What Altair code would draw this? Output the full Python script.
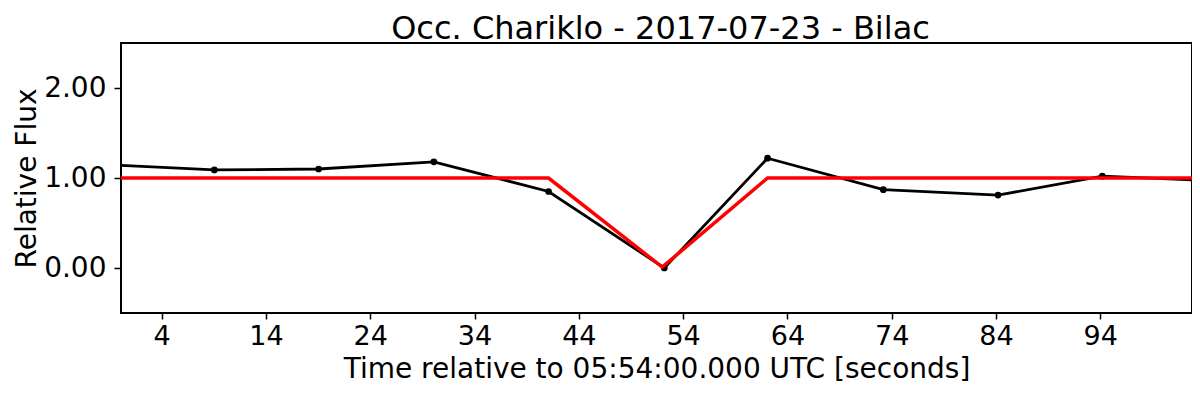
import altair as alt
import pandas as pd

# Observed light curve (black)
time = [-1.5, 9.05, 19.05, 30.1, 41.1, 52.2, 62.1, 73.2, 84.2, 94.2, 104.8]
flux = [1.15, 1.09, 1.10, 1.18, 0.85, 0.0, 1.22, 0.87, 0.81, 1.02, 0.97]

# Model (red)
model_time = [-1.5, 41.1, 52.0, 62.1, 104.8]
model_flux = [1.0, 1.0, 0.01, 1.0, 1.0]

x_ticks = [4, 14, 24, 34, 44, 54, 64, 74, 84, 94]
y_ticks = [0.0, 1.0, 2.0]

obs = pd.DataFrame({"t": time, "f": flux})
mod = pd.DataFrame({"t": model_time, "f": model_flux})

FONT = "DejaVu Sans"

x_enc = alt.X("t:Q",
              scale=alt.Scale(domain=[0.1, 102.8], nice=False, zero=False),
              axis=alt.Axis(values=x_ticks, title="Time relative to 05:54:00.000 UTC [seconds]",
                            grid=False, labelFontSize=27, titleFontSize=28,
                            tickSize=6, tickWidth=1.5, labelPadding=4, titlePadding=6,
                            domain=False, tickColor="black", labelColor="black",
                            titleColor="black", titleFontWeight="normal",
                            labelFont=FONT, titleFont=FONT))
y_enc = alt.Y("f:Q",
              scale=alt.Scale(domain=[-0.5, 2.5], nice=False, zero=False),
              axis=alt.Axis(values=y_ticks, format=".2f", title="Relative Flux",
                            grid=False, labelFontSize=28, titleFontSize=28,
                            tickSize=7, tickWidth=1.5, labelPadding=8, titlePadding=2,
                            domain=False, tickColor="black", labelColor="black",
                            titleColor="black", titleFontWeight="normal",
                            labelFont=FONT, titleFont=FONT))

line = alt.Chart(obs).mark_line(color="black", strokeWidth=2.8, clip=True).encode(x=x_enc, y=y_enc)
pts = alt.Chart(obs).mark_circle(color="black", size=45, opacity=1, clip=True).encode(x="t:Q", y="f:Q")
model = alt.Chart(mod).mark_line(color="#ff0000", strokeWidth=3.5, clip=True).encode(x="t:Q", y="f:Q")

chart = (line + pts + model).properties(
    width=1071, height=270,
    title=alt.TitleParams("Occ. Chariklo - 2017-07-23 - Bilac", fontSize=32, font=FONT,
                          fontWeight="normal", color="black", offset=-3, dx=4),
    autosize=alt.AutoSizeParams(type="none"),
    padding={"left": 113, "top": 35, "right": 0, "bottom": 72},
).configure_view(stroke="black", strokeWidth=2)

chart.save("out.html", embed_options={"renderer": "svg", "actions": False})
